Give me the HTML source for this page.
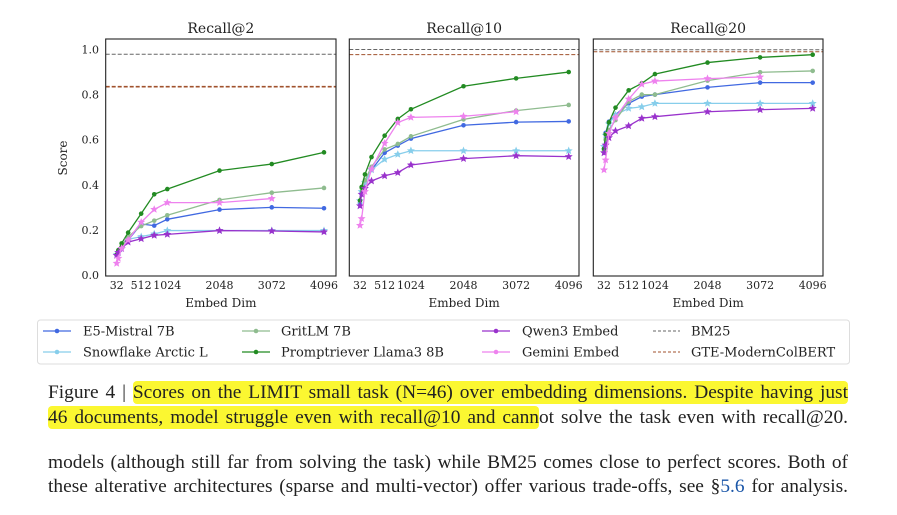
<!DOCTYPE html>
<html><head><meta charset="utf-8">
<style>
body{margin:0;background:#fff;width:897px;height:515px;overflow:hidden;position:relative;font-family:"DejaVu Serif","Liberation Serif",serif;}
svg{position:absolute;left:0;top:0}
.cap{position:absolute;left:48px;width:800px;font-family:"Liberation Serif",serif;font-size:19.4px;color:#222;text-align:justify;text-align-last:justify;white-space:nowrap;line-height:24px}
.hl{background:#fbf731;border-radius:4px;padding:1px 0}
a{color:#1a56a8;text-decoration:none}
</style></head><body>
<svg id="chart" width="897" height="380" xmlns="http://www.w3.org/2000/svg"></svg>
<div class="cap" style="top:381px">Figure 4 | <span class="hl">Scores on the LIMIT small task (N=46) over embedding dimensions. Despite having just</span></div>
<div class="cap" style="top:406px"><span class="hl">46 documents, model struggle even with recall@10 and cann</span>ot solve the task even with recall@20.</div>
<div class="cap" style="top:451px">models (although still far from solving the task) while BM25 comes close to perfect scores. Both of</div>
<div class="cap" style="top:475px">these alterative architectures (sparse and multi-vector) offer various trade-offs, see §<a href="#">5.6</a> for analysis.</div>
<script>
const dims=[32,64,128,256,512,768,1024,2048,3072,4096];
const panelTitles=["Recall@2","Recall@10","Recall@20"];
const yTicks=[0,0.2,0.4,0.6,0.8,1.0];
const xTicks=[32,512,1024,2048,3072,4096];
const seriesNames=["E5-Mistral 7B","Snowflake Arctic L","GritLM 7B","Promptriever Llama3 8B","Qwen3 Embed","Gemini Embed"];
const e5=[[0.089,0.096,0.117,0.155,0.226,0.219,0.247,0.29,0.3,0.296],[0.32,0.37,0.41,0.466,0.542,0.574,0.605,0.664,0.678,0.681],[0.56,0.63,0.68,0.71,0.761,0.791,0.8,0.832,0.853,0.853]];
const snow=[[0.09,0.1,0.117,0.158,0.17,0.182,0.197,0.197,0.197,0.197],[0.33,0.37,0.41,0.466,0.513,0.535,0.551,0.551,0.551,0.551],[0.57,0.62,0.67,0.71,0.739,0.746,0.761,0.761,0.761,0.761]];
const grit=[[0.09,0.1,0.126,0.17,0.217,0.241,0.265,0.333,0.365,0.386],[0.33,0.385,0.42,0.48,0.557,0.581,0.615,0.69,0.729,0.754],[0.55,0.6,0.643,0.687,0.769,0.8,0.8,0.862,0.899,0.905]];
const prompt=[[0.09,0.11,0.14,0.188,0.272,0.358,0.381,0.463,0.492,0.544],[0.33,0.39,0.446,0.523,0.618,0.692,0.735,0.837,0.872,0.9],[0.56,0.624,0.677,0.742,0.819,0.85,0.891,0.942,0.965,0.977]];
const qwen=[[0.087,0.1,0.117,0.146,0.161,0.176,0.18,0.197,0.195,0.191],[0.307,0.358,0.384,0.417,0.44,0.454,0.488,0.516,0.529,0.525],[0.542,0.576,0.609,0.639,0.661,0.695,0.702,0.724,0.733,0.739]];
const gemini=[[0.052,0.074,0.118,0.155,0.234,0.291,0.321,0.321,0.339,null],[0.22,0.25,0.37,0.47,0.584,0.676,0.699,0.704,0.724,null],[0.466,0.51,0.628,0.698,0.78,0.846,0.86,0.871,0.878,null]];
const bm25=[0.979,1.0,0.999];
const gte=[0.835,0.977,0.99];
const allSeries=[e5,snow,grit,prompt,qwen,gemini];
const colors=["#4169e1","#87ceeb","#8fbc8f","#228b22","#9932cc","#ee82ee"];
const markers=["dot","star","dot","dot","star","star"];
const panels=[{l:105.7,r:336,x0:116.7,x1:324},{l:349.3,r:579,x0:360,x1:568.7},{l:593.3,r:823,x0:604,x1:812.7}];
const plotTop=39,plotBot=276;
const svg=document.getElementById('chart');
const NS="http://www.w3.org/2000/svg";
function mk(t,a,p){const e=document.createElementNS(NS,t);for(const k in a)e.setAttribute(k,a[k]);(p||svg).appendChild(e);return e;}
function yS(v){return 275-v*225.5;}
function star(cx,cy,r){let p=[];for(let i=0;i<10;i++){const a=-Math.PI/2+i*Math.PI/5;const rr=i%2?r*0.45:r;p.push((cx+rr*Math.cos(a)).toFixed(1)+","+(cy+rr*Math.sin(a)).toFixed(1));}return p.join(" ");}
panels.forEach((P,pi)=>{
  const xS=d=>P.x0+(d-32)*(P.x1-P.x0)/4064;
  const g=mk('g',{});
  
  
  const t=mk('text',{x:(P.l+P.r)/2,y:33,'text-anchor':'middle','font-size':14,fill:'#222'},g);t.textContent=panelTitles[pi];
  
  
  const l1=mk('line',{x1:P.l,x2:P.r,y1:yS(bm25[pi]),y2:yS(bm25[pi]),stroke:'#666','stroke-width':1,'stroke-dasharray':'4,2'},g);
  
  
  const l2=mk('line',{x1:P.l,x2:P.r,y1:yS(gte[pi]),y2:yS(gte[pi]),stroke:'#a0522d','stroke-width':pi==0?1.6:1,'stroke-dasharray':'4,2'},g);
  
  
  allSeries.forEach((S,si)=>{
    const vals=S[pi];let pts=[];
    vals.forEach((v,i)=>{if(v!=null)pts.push([xS(dims[i]),yS(v)]);});
    const pl=mk('polyline',{points:pts.map(p=>p.join(',')).join(' '),fill:'none',stroke:colors[si],'stroke-width':1.3},g);
    
    
    pts.forEach(p=>{
      let m;
      if(markers[si]=='dot')m=mk('circle',{cx:p[0],cy:p[1],r:2.3,fill:colors[si]},g);
      else m=mk('polygon',{points:star(p[0],p[1],4.2),fill:colors[si]},g);
      
      
    });
  });
  const box=mk('rect',{x:P.l,y:plotTop,width:P.r-P.l,height:plotBot-plotTop,fill:'none',stroke:'#222','stroke-width':1.1},g);
  
  
  xTicks.forEach(d=>{
    const tx=mk('text',{x:xS(d),y:289,'text-anchor':'middle','font-size':11,fill:'#222'},g);tx.textContent=d;
    
    
  });
  const xl=mk('text',{x:(P.l+P.r)/2,y:307,'text-anchor':'middle','font-size':12,fill:'#222'},g);xl.textContent="Embed Dim";
  
  
  if(pi==0){
    yTicks.forEach(v=>{
      const ty=mk('text',{x:99,y:yS(v)+4,'text-anchor':'end','font-size':11,fill:'#222'},g);ty.textContent=v.toFixed(1);
      
      
    });
    const yl=mk('text',{x:0,y:0,'text-anchor':'middle','font-size':12,fill:'#222',transform:'translate(67,158) rotate(-90)'},g);yl.textContent="Score";
    
    
  }
});
const lg=mk('g',{});


mk('rect',{x:37.5,y:320,width:812,height:44,rx:3,fill:'#fff',stroke:'#ddd'},lg);
const legPos=[[43,83,331],[43,83,352],[242,281,331],[242,281,352],[482,522,331],[482,522,352]];
seriesNames.forEach((n,i)=>{
  const [lx,tx,y]=legPos[i];
  const e=mk('g',{},lg);
  
  
  mk('line',{x1:lx,x2:lx+28,y1:y,y2:y,stroke:colors[i],'stroke-width':1.3},e);
  mk('circle',{cx:lx+14,cy:y,r:2.3,fill:colors[i]},e);
  const t=mk('text',{x:tx,y:y+4.5,'font-size':13,fill:'#222'},e);t.textContent=n;
});
[["BM25","#666",331],["GTE-ModernColBERT","#a0522d",352]].forEach(([n,c,y])=>{
  const e=mk('g',{},lg);
  
  
  mk('line',{x1:653,x2:680,y1:y,y2:y,stroke:c,'stroke-width':1,'stroke-dasharray':'3,2'},e);
  const t=mk('text',{x:691,y:y+4.5,'font-size':13,fill:'#222'},e);t.textContent=n;
});
</script>
</body></html>
